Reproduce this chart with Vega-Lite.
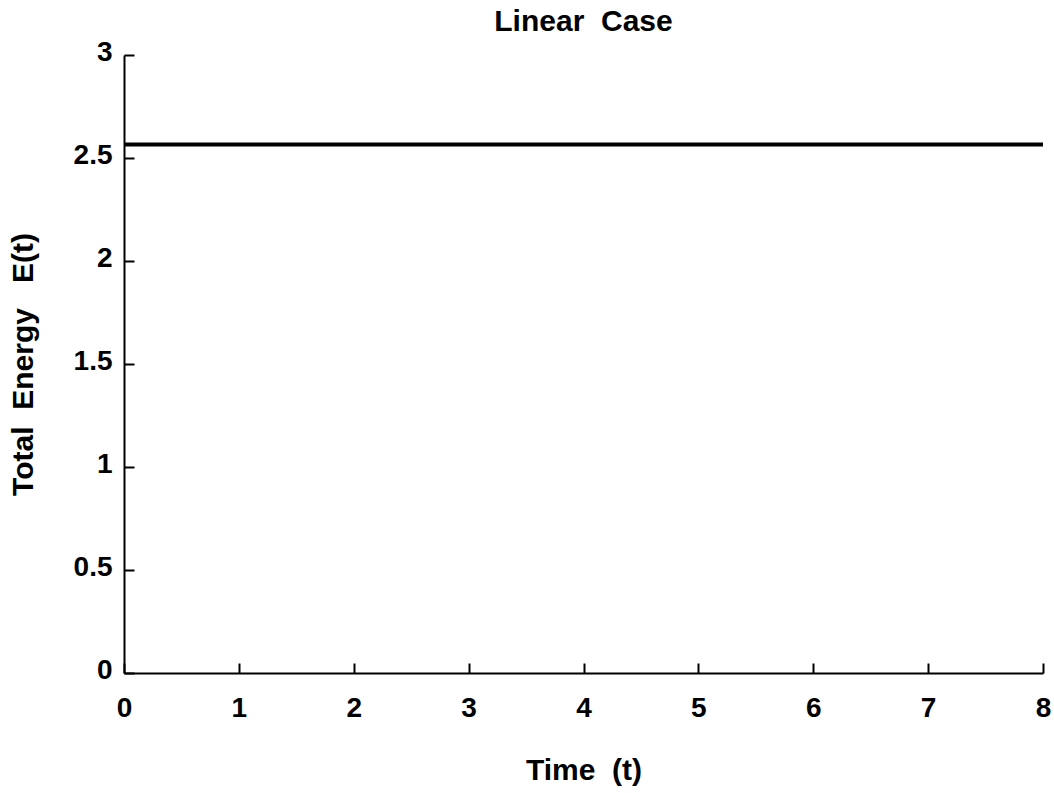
{
  "$schema": "https://vega.github.io/schema/vega-lite/v6.json",
  "width": 919,
  "height": 618,
  "autosize": "none",
  "padding": {"left": 124, "top": 55, "right": 11, "bottom": 120},
  "background": "white",
  "title": {"text": "Linear\u00a0 Case", "fontSize": 30, "font": "Liberation Sans", "fontWeight": "bold", "color": "black", "offset": 1, "anchor": "middle"},
  "config": {
    "view": {"stroke": null},
    "axis": {
      "domainColor": "black", "domainWidth": 2, "tickColor": "black", "tickWidth": 2, "tickSize": -10,
      "grid": false, "labelFlush": false, "labelFont": "Liberation Sans", "labelFontSize": 28, "labelFontWeight": "bold", "labelColor": "black",
      "titleFont": "Liberation Sans", "titleFontSize": 30, "titleFontWeight": "bold", "titleColor": "black"
    }
  },
  "data": {"values": [
    {"t": 0, "E": 2.565}, {"t": 1, "E": 2.565}, {"t": 2, "E": 2.565}, {"t": 3, "E": 2.565},
    {"t": 4, "E": 2.565}, {"t": 5, "E": 2.565}, {"t": 6, "E": 2.565}, {"t": 7, "E": 2.565}, {"t": 8, "E": 2.565}
  ]},
  "mark": {"type": "line", "color": "black", "strokeWidth": 4, "clip": false},
  "encoding": {
    "x": {"field": "t", "type": "quantitative", "scale": {"domain": [0, 8], "nice": false, "zero": false},
      "axis": {"title": "Time\u00a0 (t)", "values": [0,1,2,3,4,5,6,7,8], "format": "~g", "labelPadding": 31, "titlePadding": 33}},
    "y": {"field": "E", "type": "quantitative", "scale": {"domain": [0, 3], "nice": false},
      "axis": {"title": "Total\u00a0 Energy\u00a0\u00a0 E(t)", "values": [0,0.5,1,1.5,2,2.5,3], "format": "~g", "labelPadding": 22, "labelOffset": -3, "titlePadding": 35}}
  }
}
